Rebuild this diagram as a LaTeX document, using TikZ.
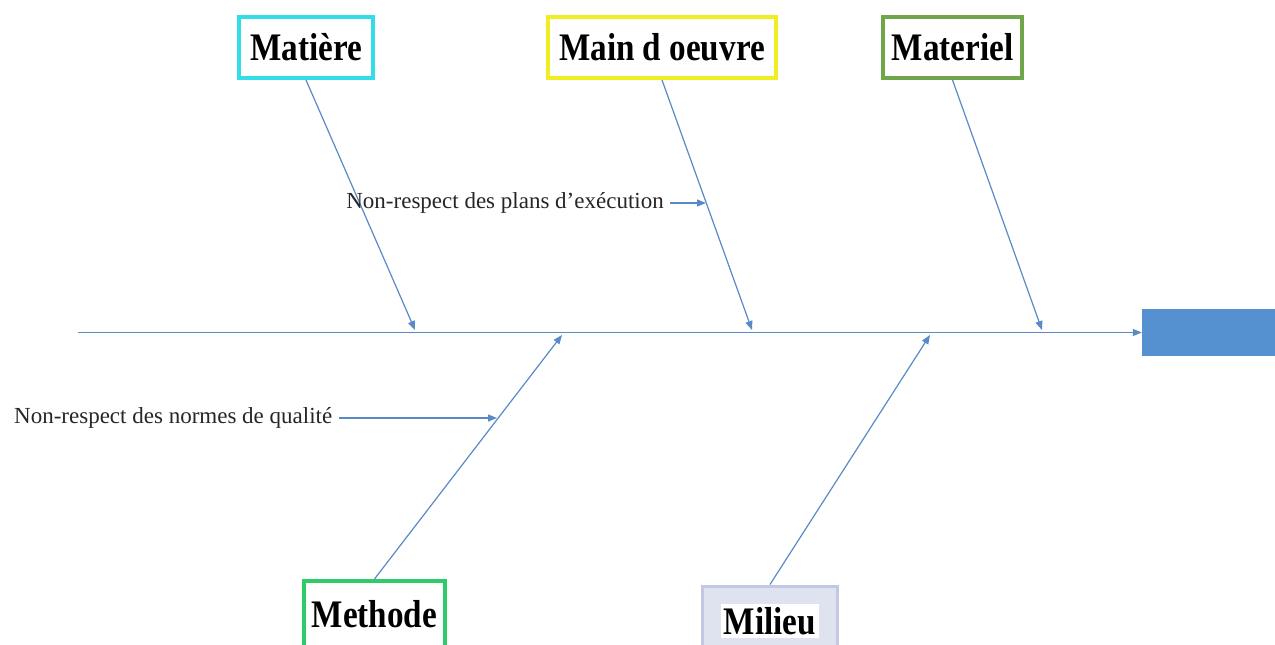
\documentclass[tikz,border=0pt]{standalone}
\usepackage{fontspec}
\setmainfont{Liberation Serif}
\usetikzlibrary{arrows.meta}
\definecolor{bone}{HTML}{5A8AC6}
\definecolor{headfill}{HTML}{5590D0}
\definecolor{cyanedge}{HTML}{33DDE8}
\definecolor{yellowedge}{HTML}{EEEE22}
\definecolor{oliveedge}{HTML}{6FA64A}
\definecolor{greenedge}{HTML}{2DCC68}
\definecolor{lavedge}{HTML}{C3C9E0}
\definecolor{lavfill}{HTML}{DFE2EF}
\begin{document}
\begin{tikzpicture}[x=1pt,y=-1pt,
  catbox/.style={draw, line width=4pt, fill=white, minimum height=61pt, inner sep=0pt,
    font=\fontsize{39}{39}\selectfont\bfseries},
  bone/.style={draw=bone, line width=1.2pt, -{Triangle[length=9pt,width=7pt]}},
  cause/.style={inner sep=0pt, font=\fontsize{23}{23}\selectfont, text=black!85}]
\useasboundingbox (0,0) rectangle (1275,645);
\fill[white] (0,0) rectangle (1275,645);

% effect head
\node[fill=headfill, minimum width=133pt, minimum height=47pt, inner sep=0pt] (head) at (1208.5,332.5) {};

% spine
\coordinate (tail) at (78,332.5);
\draw[bone] (tail) -- (head.west);

% category boxes
\node[catbox, draw=cyanedge, minimum width=134pt] (matiere) at (306,47.5) {\scalebox{0.85}[1]{Matière}};
\node[catbox, draw=yellowedge, minimum width=228pt] (mainoeuvre) at (662,47.5) {\scalebox{0.85}[1]{Main d oeuvre}};
\node[catbox, draw=oliveedge, minimum width=139pt] (materiel) at (952.5,47.5) {\scalebox{0.85}[1]{Materiel}};
\node[catbox, draw=greenedge, minimum width=141pt, minimum height=70pt] (methode) at (374.5,616)
  {\raisebox{5pt}{\scalebox{0.85}[1]{Methode}}};
\node[catbox, draw=lavedge, fill=lavfill, line width=3pt, minimum width=135pt, minimum height=70pt] (milieu) at (770,621)
  {\raisebox{2pt}{\colorbox{white}{\scalebox{0.85}[1]{Milieu}}}};

% junctions on the spine
\coordinate (j1) at (415,330);
\coordinate (j2) at (752,330);
\coordinate (j3) at (1042,330);
\coordinate (j4) at (562,335);
\coordinate (j5) at (930,335);

% branches
\draw[bone] (matiere.south) -- (j1);
\draw[bone] (mainoeuvre.south) -- (j2);
\draw[bone] (materiel.south) -- (j3);
\draw[bone] (methode.north) -- (j4);
\draw[bone] (milieu.north) -- (j5);

% causes
\node[cause, anchor=east] (c1) at (664,203) {Non-respect des plans d’exécution};
\coordinate (c1end) at (706,203);
\draw[bone] ([xshift=6pt]c1.east) -- (c1end);

\node[cause, anchor=west] (c2) at (14,418) {Non-respect des normes de qualité};
\coordinate (c2end) at (497,418);
\draw[bone] ([xshift=7pt]c2.east) -- (c2end);
\end{tikzpicture}
\end{document}
